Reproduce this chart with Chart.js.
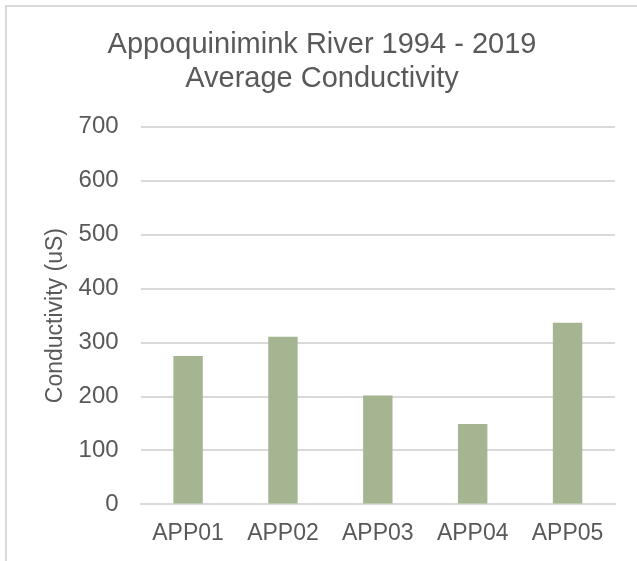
<!DOCTYPE html>
<html>
<head>
<meta charset="utf-8">
<script src="https://cdn.jsdelivr.net/npm/chart.js@4/dist/chart.umd.min.js"></script>
<style>
  html, body { margin: 0; padding: 0; background: #fff; }
  #wrap { position: relative; width: 637px; height: 561px; overflow: hidden; }
  #frame {
    position: absolute; left: 5px; top: 5px; width: 700px; height: 700px;
    border-left: 2px solid #d9d9d9; border-top: 2px solid #d9d9d9;
  }
  #chart { position: absolute; left: 0; top: 0; }
</style>
</head>
<body>
<div id="wrap">
  <div id="frame"></div>
  <canvas id="chart" width="637" height="561"></canvas>
</div>
<script>
var sites = ['APP01', 'APP02', 'APP03', 'APP04', 'APP05'];
var avgConductivity = [275, 311, 202, 149, 337];
var yTicks = [0, 100, 200, 300, 400, 500, 600, 700];

var textColor = '#595959';
var gridColor = '#d9d9d9';
var fontFamily = 'Liberation Sans, Arial, sans-serif';

var ctx = document.querySelector('#chart').getContext('2d');
var conductivityChart = new Chart(ctx, {
    type: 'bar',
    data: {
        labels: sites,
        datasets: [{
            label: 'Average Conductivity',
            data: avgConductivity,
            backgroundColor: '#a5b592',
            borderWidth: 0,
            categoryPercentage: 1,
            barPercentage: 0.31
        }]
    },
    options: {
        responsive: false,
        animation: false,
        layout: {
            padding: { top: 16, right: 22, bottom: -1, left: 29 }
        },
        plugins: {
            legend: { display: false },
            tooltip: { enabled: false },
            title: {
                display: true,
                text: ['Appoquinimink River 1994 - 2019', 'Average Conductivity'],
                color: textColor,
                font: { family: fontFamily, size: 29, weight: 'normal', lineHeight: 1.17 },
                padding: { top: 12, bottom: 31 }
            }
        },
        scales: {
            x: {
                grid: { display: false, drawTicks: false },
                border: { display: true, color: gridColor, width: 2 },
                ticks: {
                    color: textColor,
                    padding: 15,
                    font: { family: fontFamily, size: 23 }
                }
            },
            y: {
                min: 0,
                max: 700,
                afterBuildTicks: function (axis) {
                    axis.ticks = yTicks.map(function (v) { return { value: v }; });
                },
                grid: { color: gridColor, lineWidth: 2, drawTicks: false },
                border: { display: false },
                ticks: {
                    color: textColor,
                    padding: 22,
                    font: { family: fontFamily, size: 24 }
                },
                title: {
                    display: true,
                    text: 'Conductivity (uS)',
                    color: textColor,
                    padding: { top: 13, bottom: -13 },
                    font: { family: fontFamily, size: 23 }
                }
            }
        }
    }
});
</script>
</body>
</html>
